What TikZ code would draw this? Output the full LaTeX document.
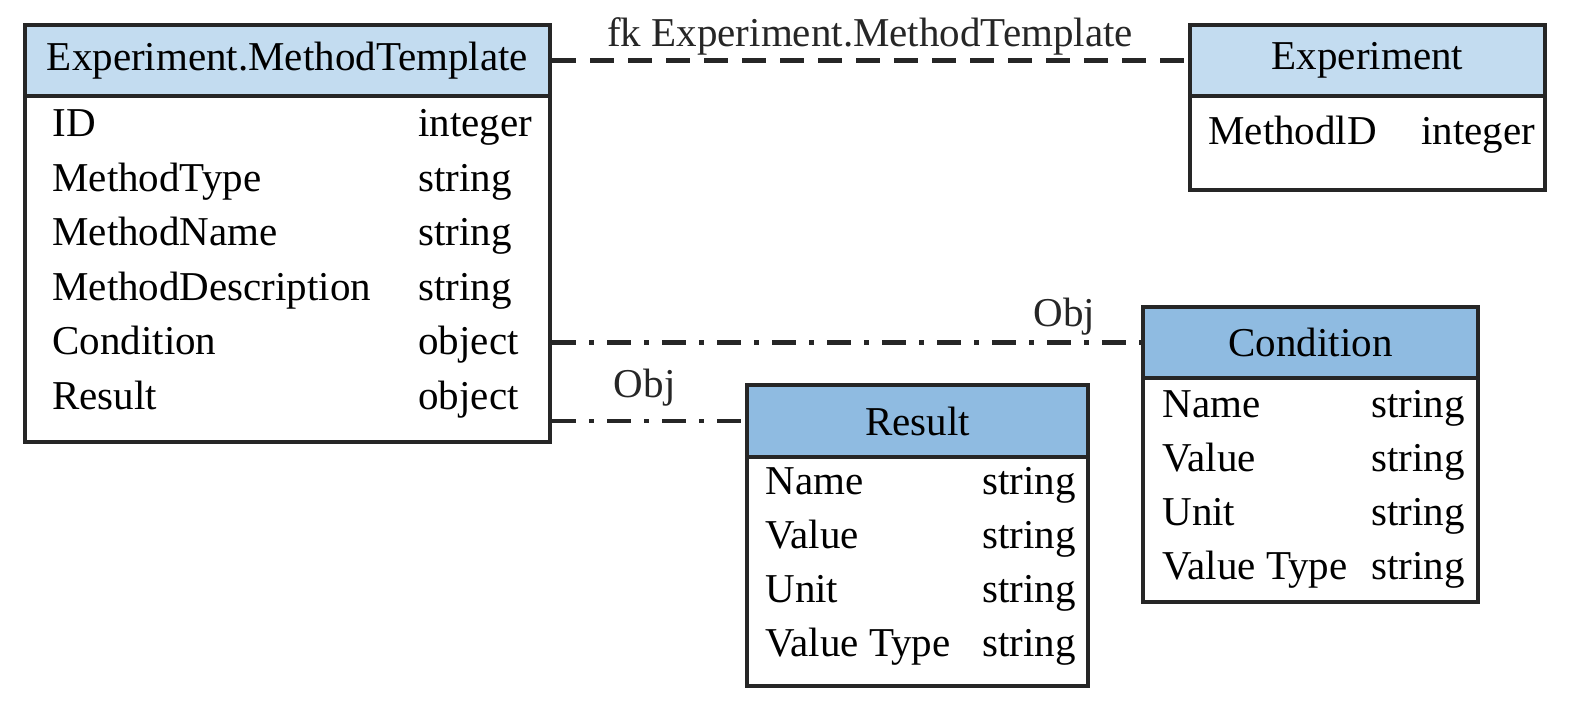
\documentclass[tikz,border=0pt]{standalone}
\usepackage{fontspec}
\setmainfont{Liberation Serif}
\usetikzlibrary{positioning,shadows}
\definecolor{edgex}{HTML}{262626}
\definecolor{paleblue}{HTML}{C3DCF0}
\definecolor{midblue}{HTML}{8FBBE1}
\tikzset{
  tbl/.style={draw=edgex,line width=2.2pt,fill=white,inner sep=0pt,
    drop shadow={shadow xshift=1.2pt,shadow yshift=-1.2pt,opacity=0.35}},
  hdr/.style={tbl,font=\fontsize{20.5}{24}\selectfont},
  fld/.style={anchor=base west,inner sep=0pt,font=\fontsize{20.5}{24}\selectfont},
  fk/.style={edgex,line width=2.3pt,dash pattern=on 12pt off 7pt},
  obj/.style={edgex,line width=2.3pt,dash pattern=on 12pt off 6.5pt on 2.5pt off 6.5pt},
  lbl/.style={font=\fontsize{20.5}{24}\selectfont,inner sep=0pt}
}

\begin{document}
\begin{tikzpicture}[x=0.5pt,y=-0.5pt]
\useasboundingbox (0,0) rectangle (1575,706);
% tables: body first, then header
\node[tbl,minimum width=262.5pt,minimum height=173pt] (mtB) at (287.5,269) {};
\node[hdr,fill=paleblue,minimum width=262.5pt,minimum height=35.5pt] (mtH) at (287.5,60.5) {Experiment.MethodTemplate};
\node[tbl,minimum width=177.5pt,minimum height=47pt] (expB) at (1367.5,143) {};
\node[hdr,fill=paleblue,minimum width=177.5pt,minimum height=35.5pt] (expH) at (1367.5,60.5) {Experiment};
\node[tbl,minimum width=167.5pt,minimum height=112pt] (condB) at (1310.5,490) {};
\node[hdr,fill=midblue,minimum width=167.5pt,minimum height=35.5pt] (condH) at (1310.5,342.5) {Condition};
\node[tbl,minimum width=170.5pt,minimum height=114.5pt] (resB) at (917.5,571.5) {};
\node[hdr,fill=midblue,minimum width=170.5pt,minimum height=36pt] (resH) at (917.5,421) {Result};
% fields
\foreach \f/\t [count=\i from 0] in {ID/integer,MethodType/string,MethodName/string,MethodDescription/string,Condition/object,Result/object}{
  \node[fld] (mtF\i) at (52,{137+54.4*\i}) {\f};
  \node[fld] (mtT\i) at (418,{137+54.4*\i}) {\t};
}
\node[fld] (expF0) at (1208,145) {MethodlD};
\node[fld] (expT0) at (1421,145) {integer};
\foreach \f [count=\i from 0] in {Name,Value,Unit,Value Type}{
  \node[fld] (condF\i) at (1162,{417+54*\i}) {\f};
  \node[fld] (condT\i) at (1371,{417+54*\i}) {string};
  \node[fld] (resF\i) at (765,{494+54*\i}) {\f};
  \node[fld] (resT\i) at (982,{494+54*\i}) {string};
}
% links
\draw[fk] (mtH.east) -- node[lbl,above=1.5pt] {fk Experiment.MethodTemplate} (expH.west);
\draw[obj] (mtB.east |- condH.west) -- node[lbl,pos=0.87,above=2.5pt] {Obj} (condH.west);
\draw[obj] (mtB.east |- resH.west) -- node[lbl,pos=0.48,above=6pt] {Obj} (resH.west);
\end{tikzpicture}
\end{document}
